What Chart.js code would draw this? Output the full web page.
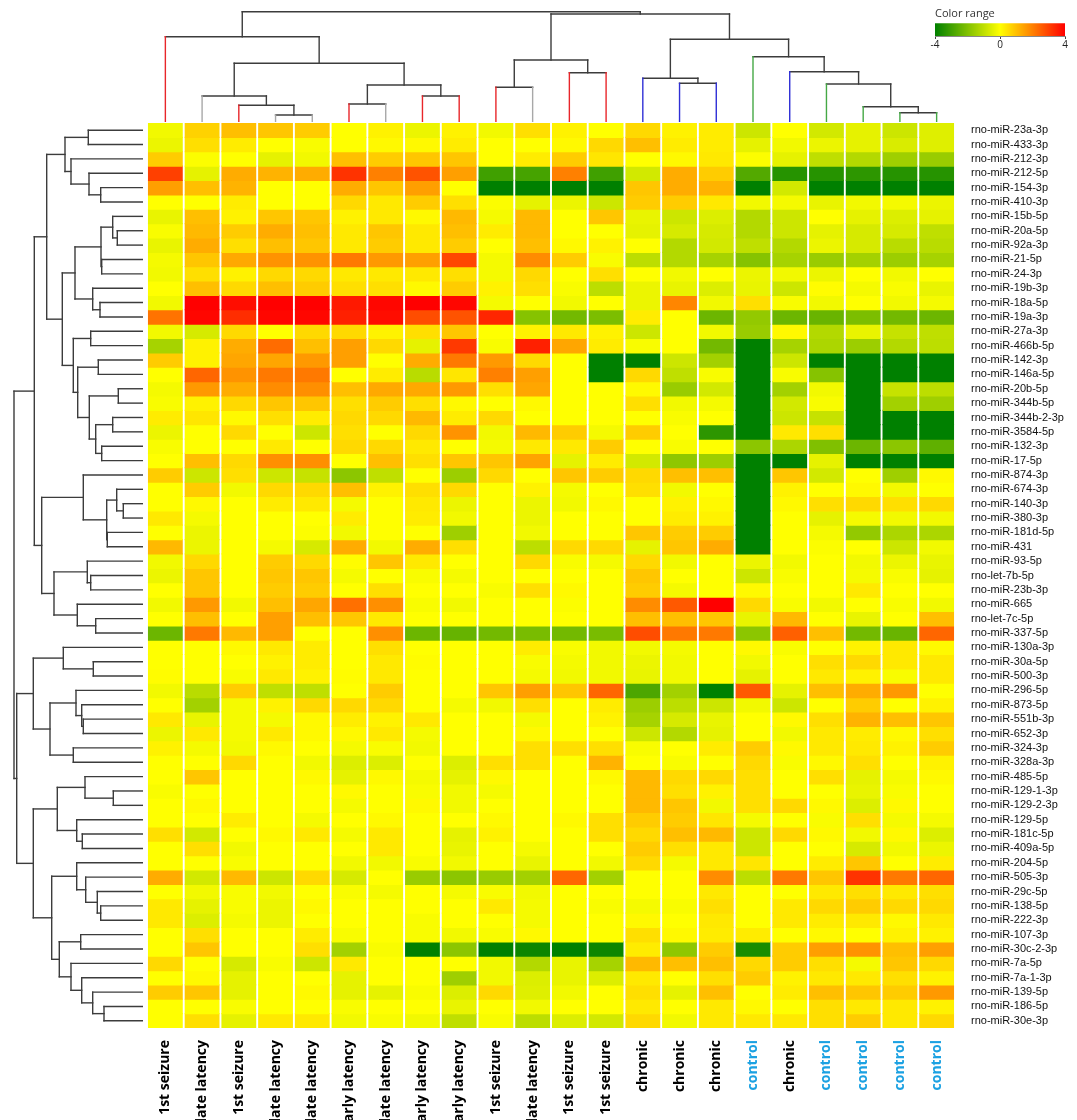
<!DOCTYPE html>
<html>
<head>
<meta charset="utf-8">
<script src="https://cdn.jsdelivr.net/npm/chart.js@4.4.1/dist/chart.umd.min.js"></script>
<style>
  html, body { margin: 0; padding: 0; background: #fff; }
  #wrap { position: relative; width: 1077px; height: 1120px; overflow: hidden; }
  canvas { position: absolute; }
</style>
</head>
<body>
<div id="wrap">
  <canvas id="heat" width="1077" height="1120" style="left:0;top:0"></canvas>
  <canvas id="colTree" width="808" height="122" style="left:147px;top:0"></canvas>
  <canvas id="rowTree" width="143" height="905" style="left:0;top:123px"></canvas>
  <canvas id="scaleBar" width="152" height="52" style="left:925px;top:0"></canvas>
</div>
<script>
// samples (columns), in dendrogram order
const colLabels = ["1st seizure", "late latency", "1st seizure", "late latency", "late latency",
  "early latency", "late latency", "early latency", "early latency", "1st seizure", "late latency",
  "1st seizure", "1st seizure", "chronic", "chronic", "chronic", "control", "chronic",
  "control", "control", "control", "control"];

// miRNAs (rows), top to bottom
const rowLabels = ["rno-miR-23a-3p", "rno-miR-433-3p", "rno-miR-212-3p", "rno-miR-212-5p",
  "rno-miR-154-3p", "rno-miR-410-3p", "rno-miR-15b-5p", "rno-miR-20a-5p", "rno-miR-92a-3p",
  "rno-miR-21-5p", "rno-miR-24-3p", "rno-miR-19b-3p", "rno-miR-18a-5p", "rno-miR-19a-3p",
  "rno-miR-27a-3p", "rno-miR-466b-5p", "rno-miR-142-3p", "rno-miR-146a-5p", "rno-miR-20b-5p",
  "rno-miR-344b-5p", "rno-miR-344b-2-3p", "rno-miR-3584-5p", "rno-miR-132-3p", "rno-miR-17-5p",
  "rno-miR-874-3p", "rno-miR-674-3p", "rno-miR-140-3p", "rno-miR-380-3p", "rno-miR-181d-5p",
  "rno-miR-431", "rno-miR-93-5p", "rno-let-7b-5p", "rno-miR-23b-3p", "rno-miR-665",
  "rno-let-7c-5p", "rno-miR-337-5p", "rno-miR-130a-3p", "rno-miR-30a-5p", "rno-miR-500-3p",
  "rno-miR-296-5p", "rno-miR-873-5p", "rno-miR-551b-3p", "rno-miR-652-3p", "rno-miR-324-3p",
  "rno-miR-328a-3p", "rno-miR-485-5p", "rno-miR-129-1-3p", "rno-miR-129-2-3p", "rno-miR-129-5p",
  "rno-miR-181c-5p", "rno-miR-409a-5p", "rno-miR-204-5p", "rno-miR-505-3p", "rno-miR-29c-5p",
  "rno-miR-138-5p", "rno-miR-222-3p", "rno-miR-107-3p", "rno-miR-30c-2-3p", "rno-miR-7a-5p",
  "rno-miR-7a-1-3p", "rno-miR-139-5p", "rno-miR-186-5p", "rno-miR-30e-3p"];

// expression values, one row per miRNA, one value per sample (colour range -4 .. 4)
const values = [
  [-0.2,0.7,1.0,0.9,0.8,0.0,0.2,-0.3,0.2,-0.2,0.5,0.2,0.0,0.6,0.2,0.3,-0.8,0.0,-0.7,-0.4,-0.8,-0.5],
  [-0.3,0.5,0.3,0.0,-0.1,0.0,0.1,0.1,0.3,0.0,0.0,0.1,0.6,1.0,0.3,0.3,-0.4,-0.2,-0.3,-0.4,-0.6,-0.5],
  [0.8,-0.05,0.0,-0.4,-0.2,1.0,0.8,0.9,0.9,0.0,0.3,0.8,0.4,0.0,0.1,0.35,-0.05,-0.4,-1.0,-1.2,-1.5,-1.6],
  [3.0,-0.4,1.3,1.2,1.3,3.2,2.0,2.7,1.5,-3.0,-2.9,2.0,-3.0,-0.7,1.3,0.8,-2.7,-3.4,-3.4,-3.3,-3.4,-3.4],
  [1.5,1.0,1.2,0.0,0.0,1.3,0.9,1.5,0.0,-4,-4,-4,-4,0.9,1.3,1.2,-4,-0.7,-4,-4,-4,-4],
  [0.0,0.0,0.3,0.0,0.0,0.6,0.35,0.8,0.5,-0.05,-0.4,-0.3,-0.8,0.8,0.8,0.35,-0.2,-0.15,-0.35,-0.2,-0.15,-0.3],
  [-0.35,1.0,0.2,0.9,0.9,0.2,0.35,0.1,1.1,-0.15,1.1,0.0,0.9,-0.35,-0.8,-0.55,-1.2,-0.8,0.0,-0.4,-0.55,-0.4],
  [-0.1,1.1,0.8,1.3,1.0,0.35,0.9,0.35,1.0,0.3,1.1,0.0,0.0,-0.4,-0.65,-0.65,-1.2,-0.8,-0.4,-0.65,-0.65,-1.0],
  [-0.35,1.3,0.5,1.0,0.9,0.35,0.8,0.35,0.8,0.0,1.0,0.1,0.2,0.0,-1.2,-0.7,-1.0,-1.2,-0.3,-0.65,-1.1,-1.1],
  [-0.15,0.9,1.35,1.7,1.7,2.1,1.6,1.5,2.9,-0.15,1.8,0.8,-0.1,-1.05,-1.2,-1.4,-1.9,-1.4,-1.6,-1.45,-1.55,-1.4],
  [-0.2,0.5,0.2,0.6,0.6,0.35,0.35,0.35,0.5,-0.15,0.6,0.0,0.5,0.0,-0.2,0.0,-0.3,-0.2,-0.3,0.0,-0.2,0.0],
  [0.0,1.0,0.6,1.0,0.8,0.5,0.5,0.1,0.8,0.2,0.5,-0.1,-1.05,-0.3,-0.35,-0.55,-0.35,-0.8,0.05,-0.15,-0.1,-0.35],
  [-0.2,4,3.8,4,4,3.6,3.9,4,3.9,-0.15,0.0,-0.2,0.0,-0.3,1.9,-0.2,0.5,-0.1,-0.2,0.0,-0.2,-0.15],
  [2.2,3.9,3.3,3.9,3.9,3.5,3.8,2.8,2.7,3.4,-1.9,-2.2,-2.05,0.3,0.0,-2.3,-1.7,-2.3,-2.35,-2.05,-2.2,-2.3],
  [-0.2,-0.65,0.6,0.0,0.6,0.6,0.2,0.5,0.9,0.0,0.2,0.35,0.2,-0.8,0.0,-0.2,-1.6,0.1,-1.2,-0.35,-0.9,-1.0],
  [-1.4,0.2,1.3,2.3,1.0,1.5,0.6,-0.4,3.1,-0.1,3.5,1.4,0.3,-0.1,0.0,-2.2,-4,-1.4,-1.3,-1.55,-1.2,-1.05],
  [0.8,0.2,1.4,1.4,1.6,1.5,0.0,1.3,2.1,1.6,0.6,0.0,-4,-4,-0.8,-1.45,-4,-0.8,-4,-4,-4,-4],
  [0.0,2.4,1.7,2.1,2.1,0.0,0.3,-1.1,0.4,2.0,1.5,0.0,-4,0.6,-1.0,-0.1,-4,-0.1,-1.9,-4,-4,-4],
  [-0.15,1.6,1.3,1.8,1.75,1.0,1.35,1.35,1.6,0.5,1.4,0.0,0.0,0.1,-1.6,-0.7,-4,-1.45,-0.2,-4,-0.9,-1.05],
  [-0.1,0.2,0.6,0.9,0.9,0.5,0.8,0.5,0.1,0.0,0.1,0.0,0.0,0.5,-0.2,-0.15,-4,-0.7,-0.1,-4,-1.45,-1.5],
  [0.3,0.4,0.1,0.5,0.3,0.6,0.6,1.1,0.3,0.6,0.0,0.0,0.0,0.0,-0.1,0.0,-4,-0.8,-0.9,-4,-4,-4],
  [-0.3,0.0,0.6,0.0,-0.8,0.5,0.0,0.6,1.7,-0.2,1.1,0.8,-0.15,0.8,0.0,-3.3,-4,0.35,0.5,-4,-4,-4],
  [-0.1,0.0,0.0,0.35,0.0,0.6,0.6,0.35,0.0,-0.15,0.35,0.35,0.8,0.0,-0.1,0.0,-1.8,-1.3,-2.0,-2.3,-1.8,-2.5],
  [0.0,1.0,0.6,1.75,1.75,0.0,1.0,0.5,0.9,0.9,1.45,-0.4,0.3,-0.7,-1.75,-1.55,-4,-4,-0.4,-4,-4,-4],
  [0.8,-0.8,0.5,-0.8,-0.9,-1.8,-1.0,0.0,-1.55,0.6,0.0,0.9,0.8,0.6,1.0,1.0,-4,0.9,-0.7,0.0,-1.5,0.1],
  [0.0,0.8,-0.2,0.6,0.6,1.0,0.2,0.5,0.6,0.0,0.2,-0.15,0.0,0.5,-0.2,0.0,-4,0.2,0.0,0.1,-0.2,0.0],
  [0.0,0.1,0.0,0.3,0.35,-0.15,0.0,0.35,-0.3,0.0,-0.3,-0.2,0.1,0.0,0.2,0.1,-4,0.1,0.5,0.6,0.5,0.6],
  [0.35,-0.15,0.0,0.0,0.0,0.3,0.0,0.3,-0.2,0.0,-0.3,0.0,0.0,0.0,0.3,0.2,-4,0.0,-0.4,-0.15,-0.2,-0.2],
  [0.0,-0.3,0.0,0.0,-0.05,-0.2,0.0,0.0,-1.5,0.0,-0.2,0.0,0.0,0.9,0.8,0.8,-4,0.0,-0.15,-1.7,-1.3,-1.3],
  [1.1,-0.3,0.0,-0.15,-0.65,1.3,-0.2,1.3,0.5,0.0,-1.05,0.6,0.6,-0.4,0.9,1.3,-4,0.0,-0.05,0.0,-0.8,-0.2],
  [-0.2,0.6,0.0,0.8,0.6,0.05,0.9,0.35,0.0,0.0,0.6,-0.1,-0.15,0.6,-0.2,0.0,-0.3,-0.2,0.0,-0.2,-0.3,-0.35],
  [-0.3,0.9,0.0,0.9,0.9,-0.15,0.0,-0.1,-0.15,0.0,0.0,0.0,0.0,0.9,0.0,0.0,-0.8,-0.1,0.0,-0.15,-0.1,-0.4],
  [0.0,0.9,0.0,0.8,0.8,0.0,0.5,0.0,0.0,-0.1,0.5,0.1,0.0,0.8,-0.15,0.0,0.1,0.0,0.0,0.35,0.0,0.0],
  [-0.2,1.6,-0.2,1.0,1.4,2.25,1.75,-0.1,-0.2,0.0,0.0,-0.05,0.0,1.8,2.6,4,0.6,-0.1,-0.2,0.0,-0.1,-0.2],
  [0.0,1.0,0.0,1.5,1.0,0.9,0.35,0.0,0.0,0.0,0.0,0.0,0.0,1.0,1.0,0.9,-0.35,1.1,0.0,-0.35,0.0,1.0],
  [-2.3,2.1,1.1,1.5,0.0,0.0,1.75,-2.3,-2.4,-2.2,-2.1,-2.2,-2.1,2.8,2.1,2.1,-1.8,2.5,1.0,-2.2,-2.35,2.4],
  [0.0,0.0,0.1,0.35,0.3,0.0,0.5,0.0,0.0,0.0,0.3,-0.1,-0.2,-0.2,-0.15,0.0,0.1,-0.1,0.0,0.2,0.35,0.1],
  [0.0,0.0,0.0,0.2,0.3,0.0,0.35,0.05,0.0,0.0,-0.1,-0.15,-0.2,-0.3,-0.2,0.0,-0.2,0.0,0.5,0.6,0.35,0.35],
  [0.05,0.0,-0.1,0.35,0.2,0.05,0.35,0.0,0.0,0.0,-0.15,-0.2,-0.2,-0.35,-0.2,0.0,-0.4,0.0,0.35,0.2,-0.1,0.35],
  [-0.2,-1.1,0.8,-1.0,-1.0,0.0,0.8,0.0,0.0,0.9,1.5,0.9,2.4,-2.8,-1.45,-4,2.6,-0.4,1.0,1.3,1.6,0.0],
  [0.0,-1.45,-0.15,0.2,0.6,0.6,0.6,0.0,-0.15,-0.2,0.5,0.0,0.3,-1.55,-1.05,-0.8,-0.2,-0.8,0.0,0.8,0.0,0.2],
  [0.35,-0.35,-0.15,-0.15,0.1,0.3,0.2,0.35,0.0,0.0,-0.15,0.0,0.2,-1.4,-0.65,-0.35,0.0,0.1,0.5,1.2,1.0,0.9],
  [-0.3,0.35,-0.15,0.35,0.1,0.1,0.35,-0.15,0.0,0.0,0.1,0.0,0.0,-0.8,-1.2,-0.4,0.0,-0.2,0.35,0.3,0.1,0.5],
  [0.2,-0.15,-0.2,0.1,0.0,-0.15,-0.1,-0.2,0.0,0.0,0.5,0.5,0.5,-0.1,0.0,0.3,0.8,0.1,0.35,0.35,0.2,0.8],
  [0.0,0.0,0.6,0.0,-0.2,-0.55,-0.55,0.0,-0.55,0.5,0.5,0.0,1.2,0.0,-0.1,0.0,0.6,-0.1,0.1,0.5,0.0,0.2],
  [0.0,0.9,0.0,0.0,0.1,-0.4,0.1,-0.15,-0.4,0.1,0.0,0.0,0.1,1.1,0.6,0.6,0.5,0.0,0.5,-0.4,-0.15,0.1],
  [-0.1,0.0,0.0,0.0,0.0,0.1,0.0,-0.1,-0.2,-0.15,0.0,0.0,0.0,1.1,0.5,0.2,0.5,0.0,0.0,-0.35,-0.1,0.0],
  [0.0,0.1,0.0,0.0,0.0,-0.15,0.0,0.1,-0.2,0.0,0.0,0.0,0.0,1.1,0.9,-0.2,0.5,0.6,0.1,-0.55,0.1,0.0],
  [0.0,0.0,0.3,0.0,-0.15,0.0,0.1,0.0,0.0,0.1,0.0,0.1,0.5,0.8,0.8,0.4,-0.15,0.0,-0.1,0.5,-0.15,-0.15],
  [0.5,-0.7,0.0,0.1,0.35,-0.15,0.35,0.0,-0.4,0.2,0.0,0.0,0.5,0.6,1.0,1.1,-0.8,0.6,0.1,-0.2,0.1,-0.55],
  [0.0,0.5,-0.2,0.0,0.0,0.0,0.35,0.0,-0.35,0.0,-0.15,0.0,0.0,0.8,0.5,0.35,-0.8,0.0,0.0,-0.65,-0.2,-0.3],
  [0.0,0.0,-0.1,0.0,0.0,-0.2,-0.2,-0.1,-0.2,0.0,-0.35,0.0,-0.2,0.6,-0.15,0.35,0.4,0.0,0.3,0.9,0.0,0.3],
  [1.3,-0.7,1.1,-0.8,0.6,-0.65,0.0,-1.6,-1.8,-1.6,-1.45,2.4,-1.45,0.0,0.0,1.8,-1.05,2.1,0.9,3.2,2.1,2.4],
  [0.0,-0.2,-0.1,-0.2,0.0,-0.1,-0.15,0.0,-0.15,-0.1,-0.2,0.0,0.0,0.0,0.0,0.35,0.0,0.0,0.35,0.5,0.35,0.5],
  [0.35,-0.4,-0.1,-0.3,0.1,0.0,0.0,0.0,0.0,0.35,-0.15,0.0,-0.1,-0.15,-0.1,0.5,0.0,0.35,0.6,0.8,0.6,0.6],
  [0.35,-0.55,-0.15,-0.3,0.0,0.0,0.0,-0.1,0.0,0.0,-0.15,0.0,0.0,0.1,0.0,0.35,0.0,0.35,0.3,0.35,0.1,0.35],
  [0.0,0.5,0.0,0.0,0.3,-0.1,0.0,-0.1,-0.2,-0.1,0.1,0.0,0.0,0.5,0.1,0.3,0.3,0.0,0.1,0.0,0.2,0.2],
  [0.0,0.9,0.0,0.0,0.5,-1.45,-0.1,-4,-1.8,-4,-3.8,-4,-3.8,0.3,-1.75,0.8,-3.6,0.8,1.5,1.7,1.0,1.5],
  [0.6,0.0,-0.65,-0.1,-0.8,0.35,0.0,0.0,0.0,-0.2,-1.2,-0.35,-1.4,1.1,1.0,1.0,0.6,0.8,0.5,-0.15,0.9,0.6],
  [0.0,0.1,-0.4,0.0,0.0,-0.4,0.0,0.0,-1.5,-0.2,-0.55,-0.35,-0.55,0.35,0.0,0.5,0.8,0.2,0.35,0.35,0.5,0.2],
  [0.8,0.9,-0.4,0.0,0.1,-0.4,-0.4,-0.1,-0.55,0.6,-0.5,-0.2,0.0,0.5,-0.4,1.0,0.0,0.3,1.0,0.9,0.8,1.6],
  [0.0,0.0,-0.1,0.0,0.0,-0.1,0.0,0.0,-0.35,0.0,-0.2,0.0,0.0,0.35,0.0,0.35,0.1,0.0,0.5,0.35,0.35,0.2],
  [0.0,0.5,-0.4,0.35,0.35,-0.2,-0.1,-0.2,-1.0,-0.1,-1.05,-0.55,-0.7,0.6,-0.2,0.35,0.35,0.35,0.5,0.8,0.35,0.6]
];

// column dendrogram: [node, left, right, height]; numbers are sample indices
const colMerges = [
  ["c1", 3, 4, 7], ["c2", 2, "c1", 16.7], ["c3", 1, "c2", 26],
  ["c4", 5, 6, 18], ["c5", 7, 8, 26], ["c6", "c4", "c5", 37],
  ["c7", "c3", "c6", 58.7], ["c8", 0, "c7", 85.3],
  ["c9", 9, 10, 34.7], ["c10", 11, 12, 49.3], ["c11", "c9", "c10", 62],
  ["c12", 14, 15, 38.7], ["c13", 13, "c12", 43.7],
  ["c14", 20, 21, 9.3], ["c15", 19, "c14", 15.3], ["c16", 18, "c15", 38],
  ["c17", 17, "c16", 50.3], ["c18", 16, "c17", 65.3], ["c19", "c13", "c18", 82.7],
  ["c20", "c11", "c19", 108], ["root", "c8", "c20", 110.3]
];

// row dendrogram: [node, upper, lower, height]; numbers are miRNA indices
const rowMerges = [
  ["A", 0, 1, 54.7], ["B", 4, 5, 42.3], ["C", 3, "B", 54], ["D", 2, "C", 72], ["E", "A", "D", 78],
  ["F", 7, 8, 25.7], ["G", 6, "F", 30.3], ["H", 9, 10, 41.3], ["I", "G", "H", 42],
  ["J", 12, 13, 43], ["K", 11, "J", 50.3], ["L", "I", "K", 68],
  ["M", 14, 15, 52.3], ["N", 16, 17, 44.7], ["O", 18, 19, 24.7], ["P", 20, 21, 30.3],
  ["Q", 22, 23, 41.3], ["R", "P", "Q", 47.3], ["S", "O", "R", 53.7], ["T", "N", "S", 65.3],
  ["U", "M", "T", 69.7], ["V", "L", "U", 80.7], ["W", "E", "V", 96.3],
  ["m1", 26, 27, 19.7], ["m2", 25, "m1", 26.3], ["m3", 28, 29, 35.7], ["m4", "m2", "m3", 36.3],
  ["m5", 24, "m4", 59.7], ["m6", 31, 32, 52.3], ["m7", 30, "m6", 55.7], ["m8", 34, 35, 47.3],
  ["m9", 33, "m8", 65.7], ["m10", "m7", "m9", 89], ["m11", "m5", "m10", 101.3],
  ["X", "W", "m11", 108.7],
  ["b1", 37, 38, 49.7], ["b2", 36, "b1", 79.7], ["b3", 41, 42, 59.7], ["b4", 40, "b3", 61.3],
  ["b5", 39, "b4", 67], ["b6", 43, 44, 69.7], ["b7", "b5", "b6", 93], ["b8", "b2", "b7", 109.7],
  ["b9", 46, 47, 29.7], ["b10", 45, "b9", 58], ["b11", 49, 50, 60.7], ["b12", 48, "b11", 66.3],
  ["b13", "b10", "b12", 85.7], ["b14", 54, 55, 42.3], ["b15", 53, "b14", 45.7],
  ["b16", 52, "b15", 57.3], ["b17", 51, "b16", 66.3], ["b18", 56, 57, 62.3],
  ["b19", 61, 62, 39], ["b20", 60, "b19", 50.3], ["b21", 59, "b20", 61.3], ["b22", 58, "b21", 72],
  ["b23", "b18", "b22", 83.7], ["b24", "b17", "b23", 91.3], ["b25", "b13", "b24", 109.7],
  ["b26", "b8", "b25", 126.3], ["root", "X", "b26", 129]
];

const scaleTicks = [-4, 0, 4];

const groupColors = {
  "1st seizure": "#e8262a", "early latency": "#e8262a", "late latency": "#a8a8a8",
  "chronic": "#2f2fd6", "control": "#45a845"
};
const treeColor = "#3c3c3c";

function cellColor(v) {
  v = Math.max(-4, Math.min(4, v));
  if (v < 0) {
    const t = (v + 4) / 4;
    return "rgb(" + Math.round(255 * t) + "," + Math.round(128 + 127 * t) + ",0)";
  }
  const t = v / 4;
  return "rgb(255," + Math.round(255 * (1 - t)) + ",0)";
}

// turn a merge list into line segments [pos, height] -> [pos, height]
function treeSegments(merges, nLeaves) {
  const pos = {}, ht = {};
  for (let i = 0; i < nLeaves; i++) { pos[i] = i; ht[i] = 0; }
  const segs = [];
  merges.forEach(([id, a, b, h]) => {
    [a, b].forEach(k => {
      segs.push({ leaf: typeof k === "number" ? k : null, from: [pos[k], ht[k]], to: [pos[k], h] });
    });
    segs.push({ leaf: null, from: [pos[a], h], to: [pos[b], h] });
    pos[id] = (pos[a] + pos[b]) / 2;
    ht[id] = h;
  });
  return segs;
}

const base = {
  responsive: false,
  animation: false,
  events: [],
  plugins: { legend: { display: false }, tooltip: { enabled: false }, title: { display: false } }
};

// ---- heatmap ----
const heatSets = rowLabels.map((name, r) => ({
  label: name,
  data: colLabels.map(() => [r, r + 1]),
  backgroundColor: values[r].map(cellColor),
  borderWidth: 0,
  inflateAmount: 0.6,
  grouped: false,
  categoryPercentage: 0.915,
  barPercentage: 1,
  yAxisID: "y"
}));

new Chart(document.getElementById("heat"), {
  type: "bar",
  data: { labels: colLabels, datasets: heatSets },
  options: {
    ...base,
    layout: { padding: { left: 147, top: 123, right: 0, bottom: 0 } },
    scales: {
      x: {
        type: "category",
        grid: { display: false, drawTicks: false },
        border: { display: false },
        ticks: {
          autoSkip: false, minRotation: 90, maxRotation: 90, padding: 12,
          font: { family: "Open Sans", size: 14, weight: "bold" },
          color: ctx => colLabels[ctx.index] === "control" ? "#1ba1e2" : "#000"
        },
        afterFit: s => { s.height = 92; }
      },
      y: { type: "linear", min: 0, max: rowLabels.length, reverse: true, display: false },
      yNames: {
        type: "category",
        labels: rowLabels,
        position: "right",
        offset: true,
        grid: { display: false, drawTicks: false },
        border: { display: false },
        ticks: { autoSkip: false, padding: 16, font: { family: "Liberation Sans", size: 11 }, color: "#111" },
        afterFit: s => { s.width = 122; }
      }
    }
  }
});

// ---- column dendrogram ----
const colSets = treeSegments(colMerges, colLabels.length).map(s => ({
  data: [{ x: s.from[0], y: s.from[1] }, { x: s.to[0], y: s.to[1] }],
  borderColor: s.leaf === null ? treeColor : groupColors[colLabels[s.leaf]],
  borderWidth: 1.4, pointRadius: 0, showLine: true, clip: false, borderCapStyle: "square"
}));

new Chart(document.getElementById("colTree"), {
  type: "scatter",
  data: { datasets: colSets },
  options: {
    ...base,
    layout: { padding: 0 },
    scales: {
      x: { type: "linear", min: -0.5, max: colLabels.length - 0.5, display: false },
      y: { type: "linear", min: 0, max: 122, display: false }
    }
  }
});

// ---- row dendrogram ----
const rowSets = treeSegments(rowMerges, rowLabels.length).map(s => ({
  data: [{ x: s.from[1], y: s.from[0] }, { x: s.to[1], y: s.to[0] }],
  borderColor: treeColor,
  borderWidth: 1.4, pointRadius: 0, showLine: true, clip: false, borderCapStyle: "square"
}));

new Chart(document.getElementById("rowTree"), {
  type: "scatter",
  data: { datasets: rowSets },
  options: {
    ...base,
    layout: { padding: 0 },
    scales: {
      x: { type: "linear", min: 0, max: 143, reverse: true, display: false },
      y: { type: "linear", min: -0.5, max: rowLabels.length - 0.5, reverse: true, display: false }
    }
  }
});

// ---- colour range bar ----
new Chart(document.getElementById("scaleBar"), {
  type: "bar",
  data: {
    labels: [""],
    datasets: [{
      data: [[scaleTicks[0], scaleTicks[scaleTicks.length - 1]]],
      borderWidth: 0,
      categoryPercentage: 1,
      barPercentage: 1,
      backgroundColor: ctx => {
        const area = ctx.chart.chartArea;
        if (!area) return "#ff0";
        const g = ctx.chart.ctx.createLinearGradient(area.left, 0, area.right, 0);
        for (let i = 0; i <= 8; i++) g.addColorStop(i / 8, cellColor(-4 + i));
        return g;
      }
    }]
  },
  options: {
    ...base,
    indexAxis: "y",
    layout: { padding: { left: 10, right: 12, top: 0, bottom: 0 } },
    plugins: {
      ...base.plugins,
      title: {
        display: true, text: "Color range", align: "start", color: "#333",
        font: { family: "Open Sans", size: 11, weight: "normal" },
        padding: { top: 7, bottom: 3 }
      }
    },
    scales: {
      x: {
        type: "linear", min: -4, max: 4,
        afterBuildTicks: s => { s.ticks = scaleTicks.map(v => ({ value: v })); },
        grid: { display: true, drawOnChartArea: false, drawTicks: true, tickLength: 3, color: "#444" },
        border: { display: true, color: "#888" },
        ticks: { padding: 0, font: { family: "Open Sans", size: 10 }, color: "#222" },
        afterFit: s => { s.height = 16; }
      },
      y: { display: false }
    }
  }
});
</script>
</body>
</html>
